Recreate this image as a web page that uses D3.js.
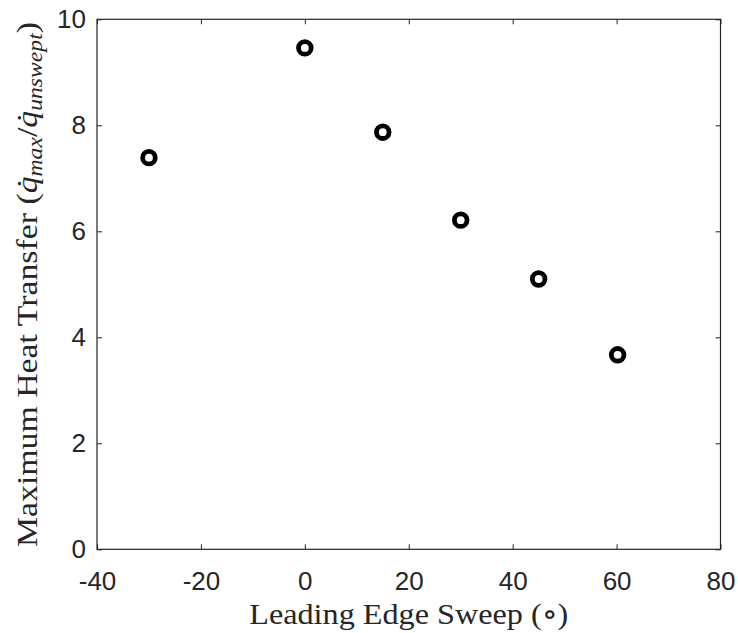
<!DOCTYPE html>
<html><head><meta charset="utf-8">
<script src="https://cdn.jsdelivr.net/npm/d3@7"></script>
<style>body{margin:0;background:#fff}svg{display:block}</style>
</head><body>
<svg id="c" width="738" height="633"></svg>
<script>
const sweep = [-30, 0, 15, 30, 45, 60.2];
const heat = [7.39, 9.46, 7.87, 6.21, 5.10, 3.67];
const xTicks = [-40, -20, 0, 20, 40, 60, 80];
const yTicks = [0, 2, 4, 6, 8, 10];

const svg = d3.select("#c");
const L = 97, R = 720.5, T = 19.3, B = 549.3;
const x = d3.scaleLinear().domain([-40, 80]).range([L, R]);
const y = d3.scaleLinear().domain([0, 10]).range([B, T]);
const axisColor = "#262626";
const fmt = d => String(d);

svg.append("rect").attr("width", 738).attr("height", 633).attr("fill", "#fff");

function style(g) {
  g.attr("font-family", null).attr("font-size", null);
  g.select(".domain").remove();
  g.selectAll("line").attr("stroke", axisColor).attr("stroke-width", 1);
  g.selectAll("text").attr("fill", axisColor)
    .attr("font-family", "'Liberation Sans', Arial, sans-serif").attr("font-size", 26);
}
svg.append("g").attr("transform", `translate(0,${B})`)
  .call(d3.axisBottom(x).tickValues(xTicks).tickFormat(fmt).tickSizeInner(-5).tickSizeOuter(0).tickPadding(22))
  .call(style);
svg.append("g").attr("transform", `translate(0,${T})`)
  .call(d3.axisTop(x).tickValues(xTicks).tickFormat("").tickSizeInner(-5).tickSizeOuter(0))
  .call(style);
svg.append("g").attr("transform", `translate(${L},0)`)
  .call(d3.axisLeft(y).tickValues(yTicks).tickFormat(fmt).tickSizeInner(-5).tickSizeOuter(0).tickPadding(11))
  .call(style);
svg.append("g").attr("transform", `translate(${R},0)`)
  .call(d3.axisRight(y).tickValues(yTicks).tickFormat("").tickSizeInner(-5).tickSizeOuter(0))
  .call(style);

svg.append("rect").attr("x", L).attr("y", T).attr("width", R - L).attr("height", B - T)
  .attr("fill", "none").attr("stroke", axisColor).attr("stroke-width", 1.2);

svg.append("g").selectAll("circle").data(sweep.map((s, i) => [s, heat[i]])).join("circle")
  .attr("cx", d => x(d[0])).attr("cy", d => y(d[1])).attr("r", 6.3)
  .attr("fill", "none").attr("stroke", "#000").attr("stroke-width", 4.8);

const serif = "'Liberation Serif', 'DejaVu Serif', serif";
const xl = svg.append("text").attr("x", (L + R) / 2).attr("y", 624).attr("text-anchor", "middle")
  .attr("font-family", serif).attr("font-size", 30).attr("fill", axisColor)
  .text("Leading Edge Sweep (\u2218)");
xl.attr("textLength", 319).attr("lengthAdjust", "spacingAndGlyphs");

const yl = svg.append("text").attr("transform", `translate(37,${(22 + 547) / 2}) rotate(-90)`)
  .attr("text-anchor", "middle").attr("font-family", serif).attr("font-size", 30).attr("fill", axisColor);
yl.append("tspan").text("Maximum Heat Transfer (");
yl.append("tspan").attr("font-style", "italic").text("q\u0307");
yl.append("tspan").attr("font-style", "italic").attr("font-size", 21).attr("dy", 5).text("max");
yl.append("tspan").attr("dy", -5).text("/");
yl.append("tspan").attr("font-style", "italic").text("q\u0307");
yl.append("tspan").attr("font-style", "italic").attr("font-size", 21).attr("dy", 5).text("unswept");
yl.append("tspan").attr("dy", -5).text(")");
yl.attr("textLength", 525).attr("lengthAdjust", "spacingAndGlyphs");
</script>
</body></html>
